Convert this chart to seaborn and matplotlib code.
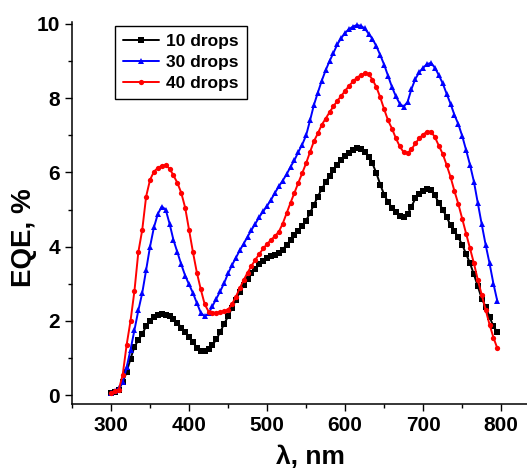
import numpy as np
import pandas as pd
import matplotlib
matplotlib.use("Agg")
import matplotlib.pyplot as plt
import seaborn as sns
from matplotlib.ticker import MultipleLocator

# wavelength grid of the measurement (nm)
wavelength = list(range(300, 800, 5))

# EQE (%)
eqe_10 = [0.05, 0.08, 0.15, 0.35, 0.62, 0.98, 1.30, 1.48, 1.65, 1.85,
          2.00, 2.10, 2.16, 2.18, 2.17, 2.12, 2.04, 1.95, 1.82, 1.69,
          1.56, 1.42, 1.28, 1.20, 1.20, 1.25, 1.35, 1.50, 1.70, 1.92,
          2.12, 2.35, 2.56, 2.78, 2.97, 3.14, 3.28, 3.40, 3.52, 3.61,
          3.68, 3.74, 3.78, 3.83, 3.92, 4.05, 4.17, 4.30, 4.43, 4.56,
          4.70, 4.91, 5.13, 5.35, 5.55, 5.73, 5.91, 6.07, 6.20, 6.33,
          6.44, 6.53, 6.61, 6.65, 6.63, 6.55, 6.42, 6.24, 5.98, 5.67,
          5.40, 5.20, 5.05, 4.92, 4.83, 4.81, 4.88, 5.08, 5.30, 5.42,
          5.50, 5.54, 5.52, 5.38, 5.18, 5.00, 4.80, 4.58, 4.42, 4.25,
          4.05, 3.80, 3.55, 3.25, 2.93, 2.60, 2.38, 2.11, 1.85, 1.70]

eqe_30 = [0.05, 0.10, 0.18, 0.35, 0.75, 1.22, 1.75, 2.28, 2.75, 3.37,
          4.00, 4.52, 4.88, 5.08, 5.00, 4.62, 4.18, 3.85, 3.52, 3.22,
          2.98, 2.75, 2.48, 2.22, 2.12, 2.20, 2.40, 2.60, 2.80, 3.02,
          3.28, 3.50, 3.70, 3.90, 4.08, 4.27, 4.45, 4.62, 4.80, 4.95,
          5.10, 5.26, 5.45, 5.62, 5.78, 5.95, 6.15, 6.33, 6.55, 6.75,
          7.00, 7.40, 7.82, 8.15, 8.47, 8.75, 9.00, 9.22, 9.45, 9.62,
          9.76, 9.86, 9.93, 9.97, 9.95, 9.88, 9.74, 9.60, 9.40, 9.16,
          8.90, 8.60, 8.30, 8.05, 7.85, 7.77, 7.90, 8.25, 8.52, 8.70,
          8.82, 8.92, 8.95, 8.82, 8.62, 8.40, 8.12, 7.85, 7.55, 7.30,
          6.98, 6.60, 6.20, 5.75, 5.17, 4.60, 4.05, 3.55, 3.00, 2.53]

eqe_40 = [0.05, 0.10, 0.15, 0.55, 1.35, 2.00, 2.80, 3.85, 4.45, 5.35,
          5.80, 6.02, 6.12, 6.18, 6.20, 6.10, 5.92, 5.72, 5.45, 5.05,
          4.45, 3.85, 3.30, 2.85, 2.45, 2.25, 2.22, 2.22, 2.24, 2.26,
          2.30, 2.45, 2.65, 2.88, 3.10, 3.30, 3.48, 3.65, 3.80, 3.95,
          4.07, 4.18, 4.28, 4.40, 4.62, 4.90, 5.18, 5.45, 5.72, 5.98,
          6.25, 6.55, 6.84, 7.05, 7.28, 7.45, 7.62, 7.78, 7.93, 8.06,
          8.20, 8.33, 8.45, 8.55, 8.62, 8.67, 8.65, 8.50, 8.30, 8.02,
          7.70, 7.40, 7.18, 6.92, 6.70, 6.54, 6.52, 6.62, 6.78, 6.92,
          7.02, 7.10, 7.10, 6.95, 6.72, 6.50, 6.20, 5.88, 5.50, 5.15,
          4.75, 4.35, 3.95, 3.55, 3.10, 2.70, 2.30, 1.90, 1.55, 1.26]

labels = ["10 drops", "30 drops", "40 drops"]
colors = ["black", "blue", "red"]
markers = ["s", "^", "o"]

sns.set_style("ticks")
plt.rcParams["font.family"] = ["Liberation Sans", "DejaVu Sans"]
plt.rcParams["font.weight"] = "bold"
plt.rcParams["text.color"] = "black"
plt.rcParams["axes.labelcolor"] = "black"
plt.rcParams["xtick.color"] = "black"
plt.rcParams["ytick.color"] = "black"

fig = plt.figure(figsize=(5.27, 4.68), dpi=100)
ax = fig.add_axes([0.1366, 0.1368, 0.8634, 0.816])

for vals, lab, col, mk in zip([eqe_10, eqe_30, eqe_40], labels, colors, markers):
    df = pd.DataFrame({"wl": wavelength, "eqe": vals})
    sns.lineplot(data=df, x="wl", y="eqe", ax=ax, color=col, marker=mk,
                 markersize=3.8, markeredgewidth=0, linewidth=1.4, label=lab)

ax.set_xlim(250, 833)
ax.set_ylim(-0.24, 10.05)
ax.xaxis.set_minor_locator(MultipleLocator(50))
ax.yaxis.set_major_locator(MultipleLocator(2))
ax.yaxis.set_minor_locator(MultipleLocator(1))
ax.set_xticks(range(300, 801, 100))
ax.tick_params(which="major", direction="out", length=5, width=1,
               labelsize=15, color="black", labelcolor="black")
ax.tick_params(which="minor", direction="out", length=3, width=1, color="black")
for t in ax.get_xticklabels() + ax.get_yticklabels():
    t.set_fontweight("bold")

sns.despine(ax=ax)
for s in ["left", "bottom"]:
    ax.spines[s].set_linewidth(1.1)
    ax.spines[s].set_color("black")

ax.set_xlabel("λ, nm", fontsize=19, fontweight="bold")
ax.set_ylabel("EQE, %", fontsize=20, fontweight="bold")
ax.xaxis.set_label_coords(0.523, -0.107)
ax.yaxis.set_label_coords(-0.077, 0.435)

leg = ax.legend(loc="upper left", bbox_to_anchor=(0.0945, 0.99),
                borderaxespad=0, fancybox=False, edgecolor="black",
                framealpha=1, prop={"size": 12.5, "weight": "bold"},
                handlelength=2.1, handletextpad=0.4, labelspacing=0.35,
                borderpad=0.45)
leg.get_frame().set_linewidth(1)

fig.savefig("out.png", dpi=100)
